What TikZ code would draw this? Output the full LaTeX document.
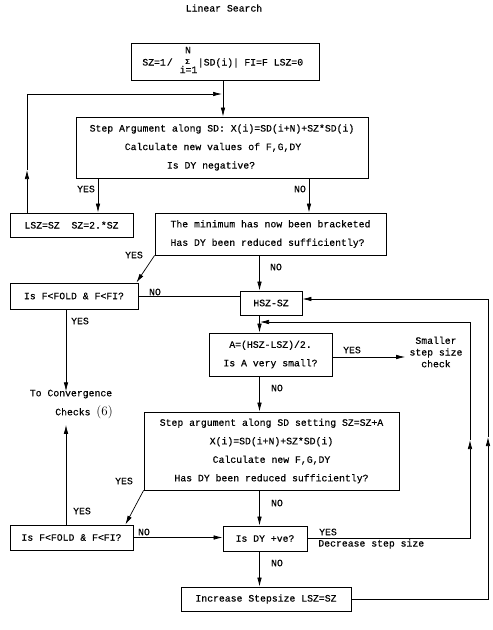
\documentclass[tikz,border=0pt]{standalone}
\usepackage{fontspec}
\setmonofont{Liberation Mono}[FakeBold=0.4]
\usetikzlibrary{arrows.meta}
\begin{document}
\begin{tikzpicture}[x=1pt,y=-1pt,
  every node/.style={font=\ttfamily\fontsize{9.8}{18.5}\selectfont, inner sep=0pt},
  box/.style={draw, line width=0.8pt, align=center},
  arr/.style={-{Latex[length=9pt,width=4.5pt]}},
  every path/.style={line width=0.7pt}]
\useasboundingbox (0,0) rectangle (493,630);

% title
\node (title) at (224,8) {Linear Search};

% box 1
\node[box, minimum width=188pt, minimum height=37pt] (b1) at (225,61.5) {};
\node[anchor=base west] (f1) at (142,65.5) {SZ=1\kern1pt/};
\node (fsig) at (187.5,61.5) {\fontsize{7.5}{7.5}\selectfont Σ};
\node (fN) at (188,50) {N};
\node (fi) at (188.5,69.5) {i=1};
\node[anchor=base west] (f2) at (197.5,65.5) {|SD(i)|};
\node[anchor=base west] (f3) at (244,65.5) {FI=F LSZ=0};

% boxes
\node[box, minimum width=292pt, minimum height=61pt] (b2) at (222,147.5)
  {Step Argument along SD: X(i)=SD(i+N)+SZ*SD(i)\\\mbox{Calculate new values of F,G,DY\kern18pt}\\\mbox{Is DY negative?\kern22pt}};
\node[box, minimum width=123pt, minimum height=24pt] (lsz) at (71.5,225) {LSZ=SZ\ \ SZ=2.*SZ};
\node[box, minimum width=231pt, minimum height=42pt, align=left] (b3) at (270.5,234)
  {The minimum has now been bracketed\\Has DY been reduced sufficiently?};
\node[box, minimum width=128pt, minimum height=26pt] (b4) at (74,296) {Is F<FOLD \& F<FI?};
\node[box, minimum width=62pt, minimum height=24pt] (hsz) at (271,303) {HSZ-SZ};
\node[box, minimum width=123pt, minimum height=43pt] (a) at (270.5,354.5) {A=(HSZ-LSZ)/2.\\Is A very small?};
\node[align=center, font=\ttfamily\fontsize{9.8}{11.7}\selectfont] (small) at (436,352) {Smaller\\step size\\check};
\node (conv) at (71,394) {To Convergence};
\node (checks) at (84,412) {Checks {\rmfamily\fontsize{13}{13}\selectfont(6)}};
\node[box, minimum width=255pt, minimum height=78pt] (b5) at (271.5,451)
  {Step argument along SD setting SZ=SZ+A\\X(i)=SD(i+N)+SZ*SD(i)\\Calculate new F,G,DY\\Has DY been reduced sufficiently?};
\node[box, minimum width=123pt, minimum height=25pt] (b6) at (71.5,537.5) {Is F<FOLD \& F<FI?};
\node[box, minimum width=84pt, minimum height=25pt] (dy) at (265,538.5) {Is DY +ve?};
\node[box, minimum width=170pt, minimum height=24pt] (inc) at (266,599) {Increase Stepsize LSZ=SZ};
\node[anchor=west] (dec) at (318,544) {Decrease step size};

% labels
\node (l1) at (86,189) {YES};
\node (l2) at (300,189) {NO};
\node (l3) at (134,255) {YES};
\node (l4) at (276,267) {NO};
\node (l5) at (155,292) {NO};
\node (l6) at (80,321) {YES};
\node (l7) at (352,350) {YES};
\node (l8) at (277,388) {NO};
\node (l9) at (124,481) {YES};
\node (l10) at (277,503) {NO};
\node (l11) at (82,511) {YES};
\node (l12) at (144,532) {NO};
\node (l13) at (328,532) {YES};
\node (l14) at (277,563) {NO};

% coordinates
\coordinate (j1) at (222,94);
\coordinate (jx) at (223,0);
\coordinate (lx) at (27,170);
\coordinate (xyes) at (98,0);
\coordinate (xno) at (309,0);
\coordinate (vx) at (259.5,0);
\coordinate (cx) at (66,0);
\coordinate (ay) at (0,357);
\coordinate (r1) at (488,299);
\coordinate (r1m) at (488,437);
\coordinate (r2m) at (470,440);
\coordinate (j2) at (260,322);

% connectors
\draw[arr] (b1.south -| jx) -- (b2.north -| jx);
\draw[arr] (lsz.north -| lx) -- (lx);
\draw[arr] (lx) |- (j1);
\draw[arr] (b2.south -| xyes) -- (lsz.north -| xyes);
\draw[arr] (b2.south -| xno) -- (b3.north -| xno);
\draw[arr] (b3.south west) -- ([xshift=-2pt]b4.north east);
\draw (b4.east) -- (b4.east -| hsz.west);
\draw[arr] (b3.south -| vx) -- (hsz.north -| vx);
\draw[arr] (hsz.south -| vx) -- (a.north -| vx);
\draw[arr] (b4.south -| cx) -- ([yshift=-2pt]conv.north -| cx);
\draw[arr, shorten >=4pt] (a.east |- ay) -- (small.west |- ay);
\draw[arr] (a.south -| vx) -- (b5.north -| vx);
\draw[arr] (b5.south west) -- ([xshift=-8pt]b6.north east);
\draw[arr] (b6.north -| cx) -- ([yshift=-6pt]checks.south -| cx);
\draw[arr] (b6.east) -- (b6.east -| dy.west);
\draw[arr] (b5.south -| vx) -- (dy.north -| vx);
\draw[arr] (dy.south -| vx) -- (inc.north -| vx);
\draw[arr] (dy.east) -| (r2m);
\draw[arr] (r2m) |- (j2);
\draw[arr] (inc.east) -| (r1m);
\draw[arr] (r1m) |- (hsz.east |- r1);
\end{tikzpicture}
\end{document}
